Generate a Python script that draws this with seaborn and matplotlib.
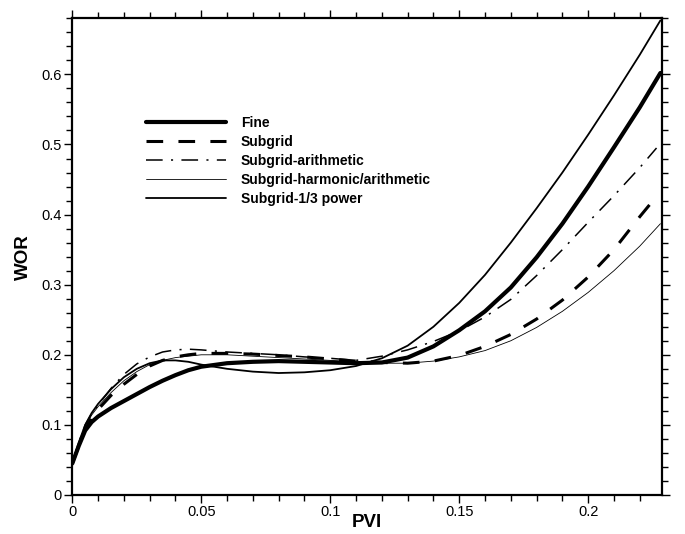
import matplotlib
matplotlib.use("Agg")
import matplotlib.pyplot as plt
import seaborn as sns
import pandas as pd
from matplotlib.ticker import MultipleLocator, FuncFormatter

# ---- data ----
pvi = [0, 0.0025, 0.005, 0.0075, 0.01, 0.015, 0.02, 0.025, 0.03, 0.035, 0.04,
       0.045, 0.05, 0.06, 0.07, 0.08, 0.09, 0.10, 0.11, 0.12, 0.13, 0.14, 0.15,
       0.16, 0.17, 0.18, 0.19, 0.20, 0.21, 0.22, 0.228]
pvi_short = pvi[:-1] + [0.2265]

wor_fine = [0.045, 0.070, 0.092, 0.104, 0.112, 0.124, 0.134, 0.144, 0.154, 0.163, 0.171,
            0.178, 0.183, 0.188, 0.190, 0.191, 0.190, 0.189, 0.188, 0.189, 0.196, 0.212, 0.235,
            0.262, 0.296, 0.339, 0.387, 0.440, 0.496, 0.553, 0.602]
wor_subgrid = [0.045, 0.070, 0.093, 0.110, 0.122, 0.142, 0.158, 0.172, 0.184, 0.192, 0.197,
               0.200, 0.202, 0.202, 0.201, 0.199, 0.197, 0.194, 0.191, 0.189, 0.188, 0.191, 0.199,
               0.212, 0.229, 0.251, 0.278, 0.311, 0.350, 0.397, 0.426]
wor_arith = [0.045, 0.075, 0.100, 0.116, 0.128, 0.152, 0.172, 0.187, 0.197, 0.204, 0.207,
             0.208, 0.207, 0.204, 0.202, 0.200, 0.197, 0.195, 0.192, 0.198, 0.207, 0.219, 0.234,
             0.254, 0.279, 0.313, 0.350, 0.389, 0.427, 0.467, 0.495]
wor_harm = [0.045, 0.073, 0.098, 0.114, 0.126, 0.146, 0.163, 0.176, 0.186, 0.192, 0.196,
            0.198, 0.200, 0.200, 0.198, 0.196, 0.194, 0.192, 0.190, 0.188, 0.188, 0.191, 0.197,
            0.206, 0.220, 0.239, 0.262, 0.289, 0.320, 0.355, 0.387]
wor_third = [0.045, 0.075, 0.100, 0.117, 0.130, 0.151, 0.168, 0.180, 0.188, 0.192, 0.192,
             0.190, 0.186, 0.180, 0.176, 0.174, 0.175, 0.178, 0.184, 0.195, 0.213, 0.240, 0.274,
             0.314, 0.360, 0.409, 0.460, 0.514, 0.570, 0.628, 0.677]

labels = ["Fine", "Subgrid", "Subgrid-arithmetic", "Subgrid-harmonic/arithmetic",
          "Subgrid-1/3 power"]
x_ticks = [0, 0.05, 0.1, 0.15, 0.2]
y_ticks = [0, 0.1, 0.2, 0.3, 0.4, 0.5, 0.6]

# ---- styling ----
sns.set_style("ticks")
plt.rcParams["font.family"] = ["Liberation Sans", "DejaVu Sans"]
plt.rcParams["lines.scale_dashes"] = False
plt.rcParams["text.color"] = "black"
plt.rcParams["axes.labelcolor"] = "black"
plt.rcParams["xtick.color"] = "black"
plt.rcParams["ytick.color"] = "black"

W, H = 685, 534
fig = plt.figure(figsize=(W / 100, H / 100), dpi=100)
ax = fig.add_axes([72.3 / W, 1 - 495 / H, (661.7 - 72.3) / W, (495 - 18.3) / H])

series = [
    (pvi, wor_fine, dict(linewidth=3.0, linestyle="-")),
    (pvi_short, wor_subgrid, dict(linewidth=2.2, linestyle=(0, (12, 11)))),
    (pvi_short, wor_arith, dict(linewidth=1.1, linestyle=(0, (12, 6, 1.5, 6)))),
    (pvi, wor_harm, dict(linewidth=0.6, linestyle="-")),
    (pvi, wor_third, dict(linewidth=1.3, linestyle="-")),
]
for (xs, ys, kw), lab in zip(series, labels):
    df = pd.DataFrame({"PVI": xs, "WOR": ys})
    sns.lineplot(data=df, x="PVI", y="WOR", ax=ax, color="black", label=lab,
                 sort=False, **kw)

ax.set_xlim(0, 0.2285)
ax.set_ylim(0, 0.68)
ax.set_xticks(x_ticks)
ax.set_yticks(y_ticks)
ax.xaxis.set_minor_locator(MultipleLocator(0.01))
ax.yaxis.set_minor_locator(MultipleLocator(0.02))
fmt = FuncFormatter(lambda v, p: f"{v:g}")
ax.xaxis.set_major_formatter(fmt)
ax.yaxis.set_major_formatter(fmt)
ax.tick_params(which="both", direction="out", top=True, right=True,
               colors="black", labelcolor="black", labelsize=10.5, width=1.0)
ax.tick_params(which="major", length=6, pad=1.5)
ax.tick_params(which="minor", length=4)
for s in ax.spines.values():
    s.set_linewidth(1.6)
    s.set_color("black")

ax.set_xlabel("PVI", fontsize=13.5, fontweight="bold", va="top", color="black")
ax.xaxis.set_label_coords(0.5, -0.040)
ax.set_ylabel("WOR", fontsize=13.5, fontweight="bold", va="center", color="black")
ax.yaxis.set_label_coords(-0.0825, 0.5)

leg = ax.legend(loc="upper left", bbox_to_anchor=(146 / W, 1 - 116 / H),
                bbox_transform=fig.transFigure, frameon=False, borderpad=0,
                borderaxespad=0, handlelength=5.76, handletextpad=1.08,
                labelspacing=0.36, prop={"weight": "bold", "size": 10})
for t in leg.get_texts():
    t.set_color("black")

fig.savefig("out.png", dpi=100)
